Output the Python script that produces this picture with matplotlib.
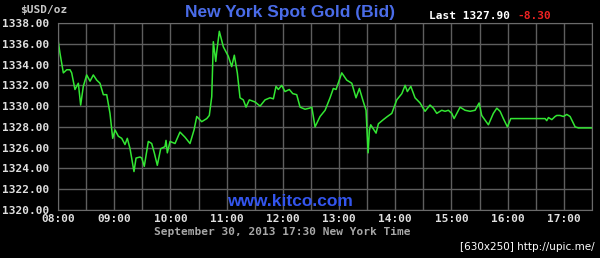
import matplotlib.pyplot as plt
import numpy as np

# minutes after 08:00 and bid price
minutes = [0.3, 2.1, 5.7, 9.3, 12.8, 14.6, 18.1, 21.7, 24.2, 27.0, 30.6, 34.2,
           37.7, 41.3, 44.8, 48.4, 52.0, 55.5, 58.4, 60.9, 64.4, 68.0, 71.5,
           74.0, 76.9, 81.1, 83.3, 87.5, 89.4, 92.1, 96.4, 100.0, 102.8, 106.0,
           109.6, 114.2, 115.3, 116.7, 119.6, 124.9, 130.2, 135.6, 140.9,
           145.2, 148.1, 153.4, 158.8, 161.5, 164.1, 165.8, 168.4, 169.4,
           172.2, 176.5, 181.8, 185.4, 188.2, 191.4, 194.3, 197.8, 200.7,
           204.2, 210.3, 215.7, 221.0, 226.3, 229.9, 232.7, 235.2, 238.8,
           242.3, 246.9, 250.6, 254.8, 258.4, 263.7, 268.3, 270.9, 274.4,
           279.7, 285.1, 290.4, 293.9, 296.8, 302.9, 308.2, 313.6, 318.1,
           321.7, 325.3, 328.8, 331.0, 332.4, 333.8, 337.4, 339.5, 342.0,
           347.3, 351.6, 356.3, 361.6, 367.0, 370.5, 372.9, 376.6, 381.1,
           386.5, 391.8, 397.1, 400.7, 404.3, 409.6, 413.2, 416.7, 420.3,
           422.8, 429.2, 434.5, 439.9, 445.2, 449.5, 452.3, 459.4, 464.7,
           468.4, 471.9, 475.4, 479.7, 483.3, 519.9, 521.7, 523.5, 527.1,
           530.6, 532.4, 535.9, 539.5, 543.1, 546.6, 552.0, 555.5, 569.8]
prices = [1336.2, 1335.1, 1333.2, 1333.5, 1333.5, 1333.2, 1331.6, 1332.2,
          1330.1, 1331.9, 1333.0, 1332.4, 1333.0, 1332.5, 1332.2, 1331.1,
          1331.1, 1329.3, 1326.9, 1327.7, 1327.1, 1326.9, 1326.3, 1326.9,
          1325.9, 1323.7, 1325.0, 1325.1, 1325.0, 1324.2, 1326.6, 1326.4,
          1325.5, 1324.3, 1325.9, 1326.1, 1326.7, 1325.5, 1326.6, 1326.4,
          1327.5, 1327.0, 1326.4, 1327.7, 1329.0, 1328.5, 1328.8, 1329.1,
          1330.9, 1336.2, 1334.3, 1335.2, 1337.2, 1335.7, 1334.8, 1333.8,
          1334.9, 1333.2, 1330.8, 1330.6, 1329.9, 1330.6, 1330.4, 1330.0,
          1330.6, 1330.8, 1330.7, 1331.9, 1331.6, 1332.0, 1331.4, 1331.6,
          1331.2, 1331.1, 1329.9, 1329.7, 1329.8, 1329.9, 1328.0, 1329.0,
          1329.6, 1330.8, 1331.7, 1331.6, 1333.2, 1332.5, 1332.2, 1330.8,
          1331.7, 1330.6, 1329.6, 1325.5, 1327.7, 1328.2, 1327.7, 1327.4,
          1328.3, 1328.7, 1329.0, 1329.3, 1330.6, 1331.2, 1332.0, 1331.4,
          1331.9, 1330.8, 1330.3, 1329.5, 1330.1, 1329.8, 1329.3, 1329.6,
          1329.5, 1329.6, 1329.3, 1328.8, 1329.9, 1329.6, 1329.5, 1329.6,
          1330.3, 1329.1, 1328.2, 1329.3, 1329.8, 1329.5, 1328.8, 1328.0,
          1328.8, 1328.8, 1328.6, 1328.9, 1328.7, 1329.0, 1329.1, 1329.1,
          1329.0, 1329.2, 1329.0, 1328.0, 1327.9, 1327.9]

hour_labels = ['08:00', '09:00', '10:00', '11:00', '12:00',
               '13:00', '14:00', '15:00', '16:00', '17:00']
price_ticks = [1320, 1322, 1324, 1326, 1328, 1330, 1332, 1334, 1336, 1338]
last_price = 1327.90
change = -8.30

hours = 8 + np.array(minutes) / 60.0

fig = plt.figure(figsize=(6, 2.58), dpi=100, facecolor='black')
ax = fig.add_axes([58 / 600, 48 / 258, 534 / 600, 187 / 258])
ax.set_facecolor('black')

ax.plot(hours, prices, color='#33e633', linewidth=1.1)

ax.set_xlim(8, 17.5)
ax.set_ylim(1320, 1338)
ax.set_xticks(np.arange(8, 17.51, 0.5), minor=True)
ax.set_xticks(np.arange(8, 17.01, 1))
ax.set_xticklabels(hour_labels)
ax.set_yticks(price_ticks)
ax.set_yticklabels(['%.2f' % p for p in price_ticks])
ax.grid(True, which='both', color='#5e5e5e', linewidth=1)
ax.tick_params(which='both', length=0, colors='#e0e0e0')
ax.tick_params(axis='y', pad=6)
ax.tick_params(axis='x', pad=3)
for lab in ax.get_xticklabels() + ax.get_yticklabels():
    lab.set_family('DejaVu Sans Mono')
    lab.set_fontweight('bold')
    lab.set_fontsize(8)
for s in ax.spines.values():
    s.set_color('#6a6a6a')

mono = dict(family='DejaVu Sans Mono', fontweight='bold', fontsize=8)
fig.text(20 / 600, 1 - 10 / 258, '$USD/oz', color='#c8c8c8', va='center', **mono)
fig.text(290 / 600, 1 - 12 / 258, 'New York Spot Gold (Bid)', color='#4a6ce8',
         family='Liberation Sans', fontweight='bold', fontsize=12.5,
         ha='center', va='center')
fig.text(429 / 600, 1 - 16 / 258, 'Last %.2f' % last_price, color='white',
         va='center', **mono)
fig.text(517 / 600, 1 - 16 / 258, '%.2f' % change, color='#ee2222',
         va='center', **mono)
fig.text(290 / 600, 1 - 202 / 258, 'www.kitco.com', color='#3355ee',
         family='Liberation Sans', fontweight='bold', fontsize=12.5,
         ha='center', va='center')
fig.text(282 / 600, 1 - 232 / 258, 'September 30, 2013 17:30 New York Time',
         color='#a8a8a8', ha='center', va='center', **mono)
fig.text(595 / 600, 1 - 247 / 258, '[630x250] http://upic.me/', color='white',
         family='DejaVu Sans', fontsize=7.5, ha='right', va='center')

fig.savefig('out.png', dpi=100, facecolor='black')
